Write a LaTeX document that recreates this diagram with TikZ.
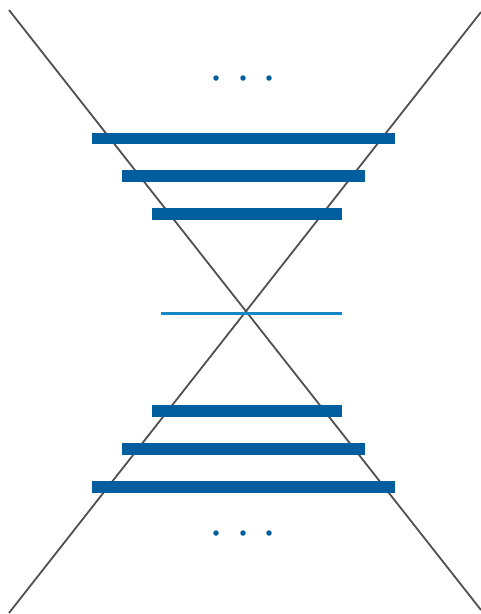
\documentclass[tikz,border=0pt]{standalone}
\definecolor{barblue}{RGB}{0,94,158}
\definecolor{midblue}{RGB}{20,136,196}
\definecolor{linegrey}{RGB}{80,80,80}
\tikzset{
  bar/.style={line width=11.5pt, barblue},
  midbar/.style={line width=3pt, midblue},
  diag/.style={line width=1.8pt, linegrey},
  dotmark/.style={circle, fill=barblue, inner sep=0pt, minimum size=5.5pt}
}
\begin{document}
\begin{tikzpicture}[x=1pt,y=-1pt]
\useasboundingbox (0,0) rectangle (481,614);
\coordinate (tl) at (9,10);
\coordinate (br) at (481,610);
\coordinate (tr) at (481,12);
\coordinate (bl) at (9,613);
\draw[diag] (tl) -- (br);
\draw[diag] (tr) -- (bl);
% top bars
\draw[bar] (92,138.5) -- (395,138.5);
\draw[bar] (122,176) -- (365,176);
\draw[bar] (152,214) -- (342,214);
% middle line
\draw[midbar] (161,313) -- (342,313);
% bottom bars
\draw[bar] (152,411) -- (342,411);
\draw[bar] (122,449) -- (365,449);
\draw[bar] (92,487) -- (395,487);
% dots
\node[dotmark] (d1) at (216,78) {};
\node[dotmark] (d2) at (243,78) {};
\node[dotmark] (d3) at (269,78) {};
\node[dotmark] (d4) at (216,533) {};
\node[dotmark] (d5) at (243,533) {};
\node[dotmark] (d6) at (269,533) {};
\end{tikzpicture}
\end{document}
